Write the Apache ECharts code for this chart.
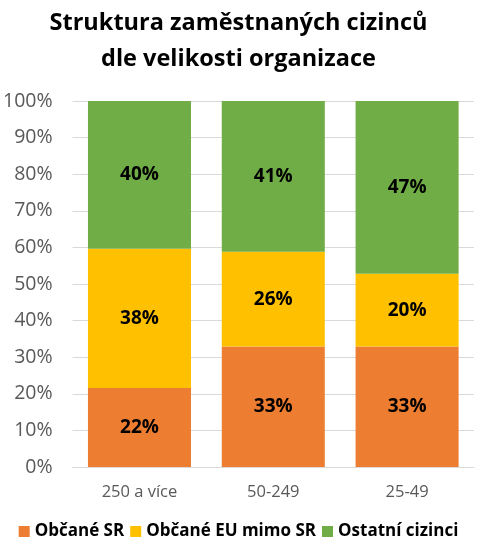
<!DOCTYPE html>
<html><head><meta charset="utf-8">
<script src="https://cdn.jsdelivr.net/npm/echarts@6/dist/echarts.min.js"></script>
<style>html,body{margin:0;padding:0;background:#fff}#c{width:477px;height:550px}</style>
</head><body><div id="c"></div>
<script>
const categories = ['250 a více', '50-249', '25-49'];
const obcaneSR = [21.6, 32.9, 32.9];
const obcaneEU = [38.0, 25.9, 19.9];
const ostatni = [40.4, 41.2, 47.2];
const seriesNames = ['Občané SR', 'Občané EU mimo SR', 'Ostatní cizinci'];
const colors = ['#ED7D31', '#FFC000', '#70AD47'];
const font = 'Open Sans';

const chart = echarts.init(document.getElementById('c'), null, {renderer: 'canvas'});
const mk = (name, data, color) => ({
  name, type: 'bar', stack: 'a', data, barCategoryGap: '23%',
  itemStyle: {color},
  label: {show: true, position: 'inside', formatter: p => Math.round(p.value) + '%',
    color: '#000', fontWeight: 'bold', fontSize: 19, fontFamily: font}
});
chart.setOption({
  animation: false,
  title: {text: 'Struktura zaměstnaných cizinců\ndle velikosti organizace', left: 'center', top: 0,
    textStyle: {fontFamily: font, fontWeight: 'bold', fontSize: 23.5, color: '#000', lineHeight: 36}},
  legend: {bottom: 5, left: 'center', icon: 'rect', itemWidth: 11, itemHeight: 11, itemGap: 6,
    textStyle: {fontFamily: font, fontWeight: 'bold', fontSize: 17, color: '#000'},
    data: seriesNames},
  grid: {left: 72, right: 3, top: 101, bottom: 83},
  xAxis: {type: 'category', data: categories,
    axisLine: {lineStyle: {color: '#D9D9D9'}}, axisTick: {show: false},
    axisLabel: {fontFamily: font, fontSize: 16.5, color: '#595959', margin: 17}},
  yAxis: {type: 'value', min: 0, max: 100, interval: 10,
    axisLabel: {formatter: '{value}%', fontFamily: font, fontSize: 19.5, color: '#595959', margin: 20},
    splitLine: {lineStyle: {color: '#D9D9D9'}}, axisLine: {show: false}},
  series: [mk(seriesNames[0], obcaneSR, colors[0]), mk(seriesNames[1], obcaneEU, colors[1]), mk(seriesNames[2], ostatni, colors[2])]
});
</script></body></html>
